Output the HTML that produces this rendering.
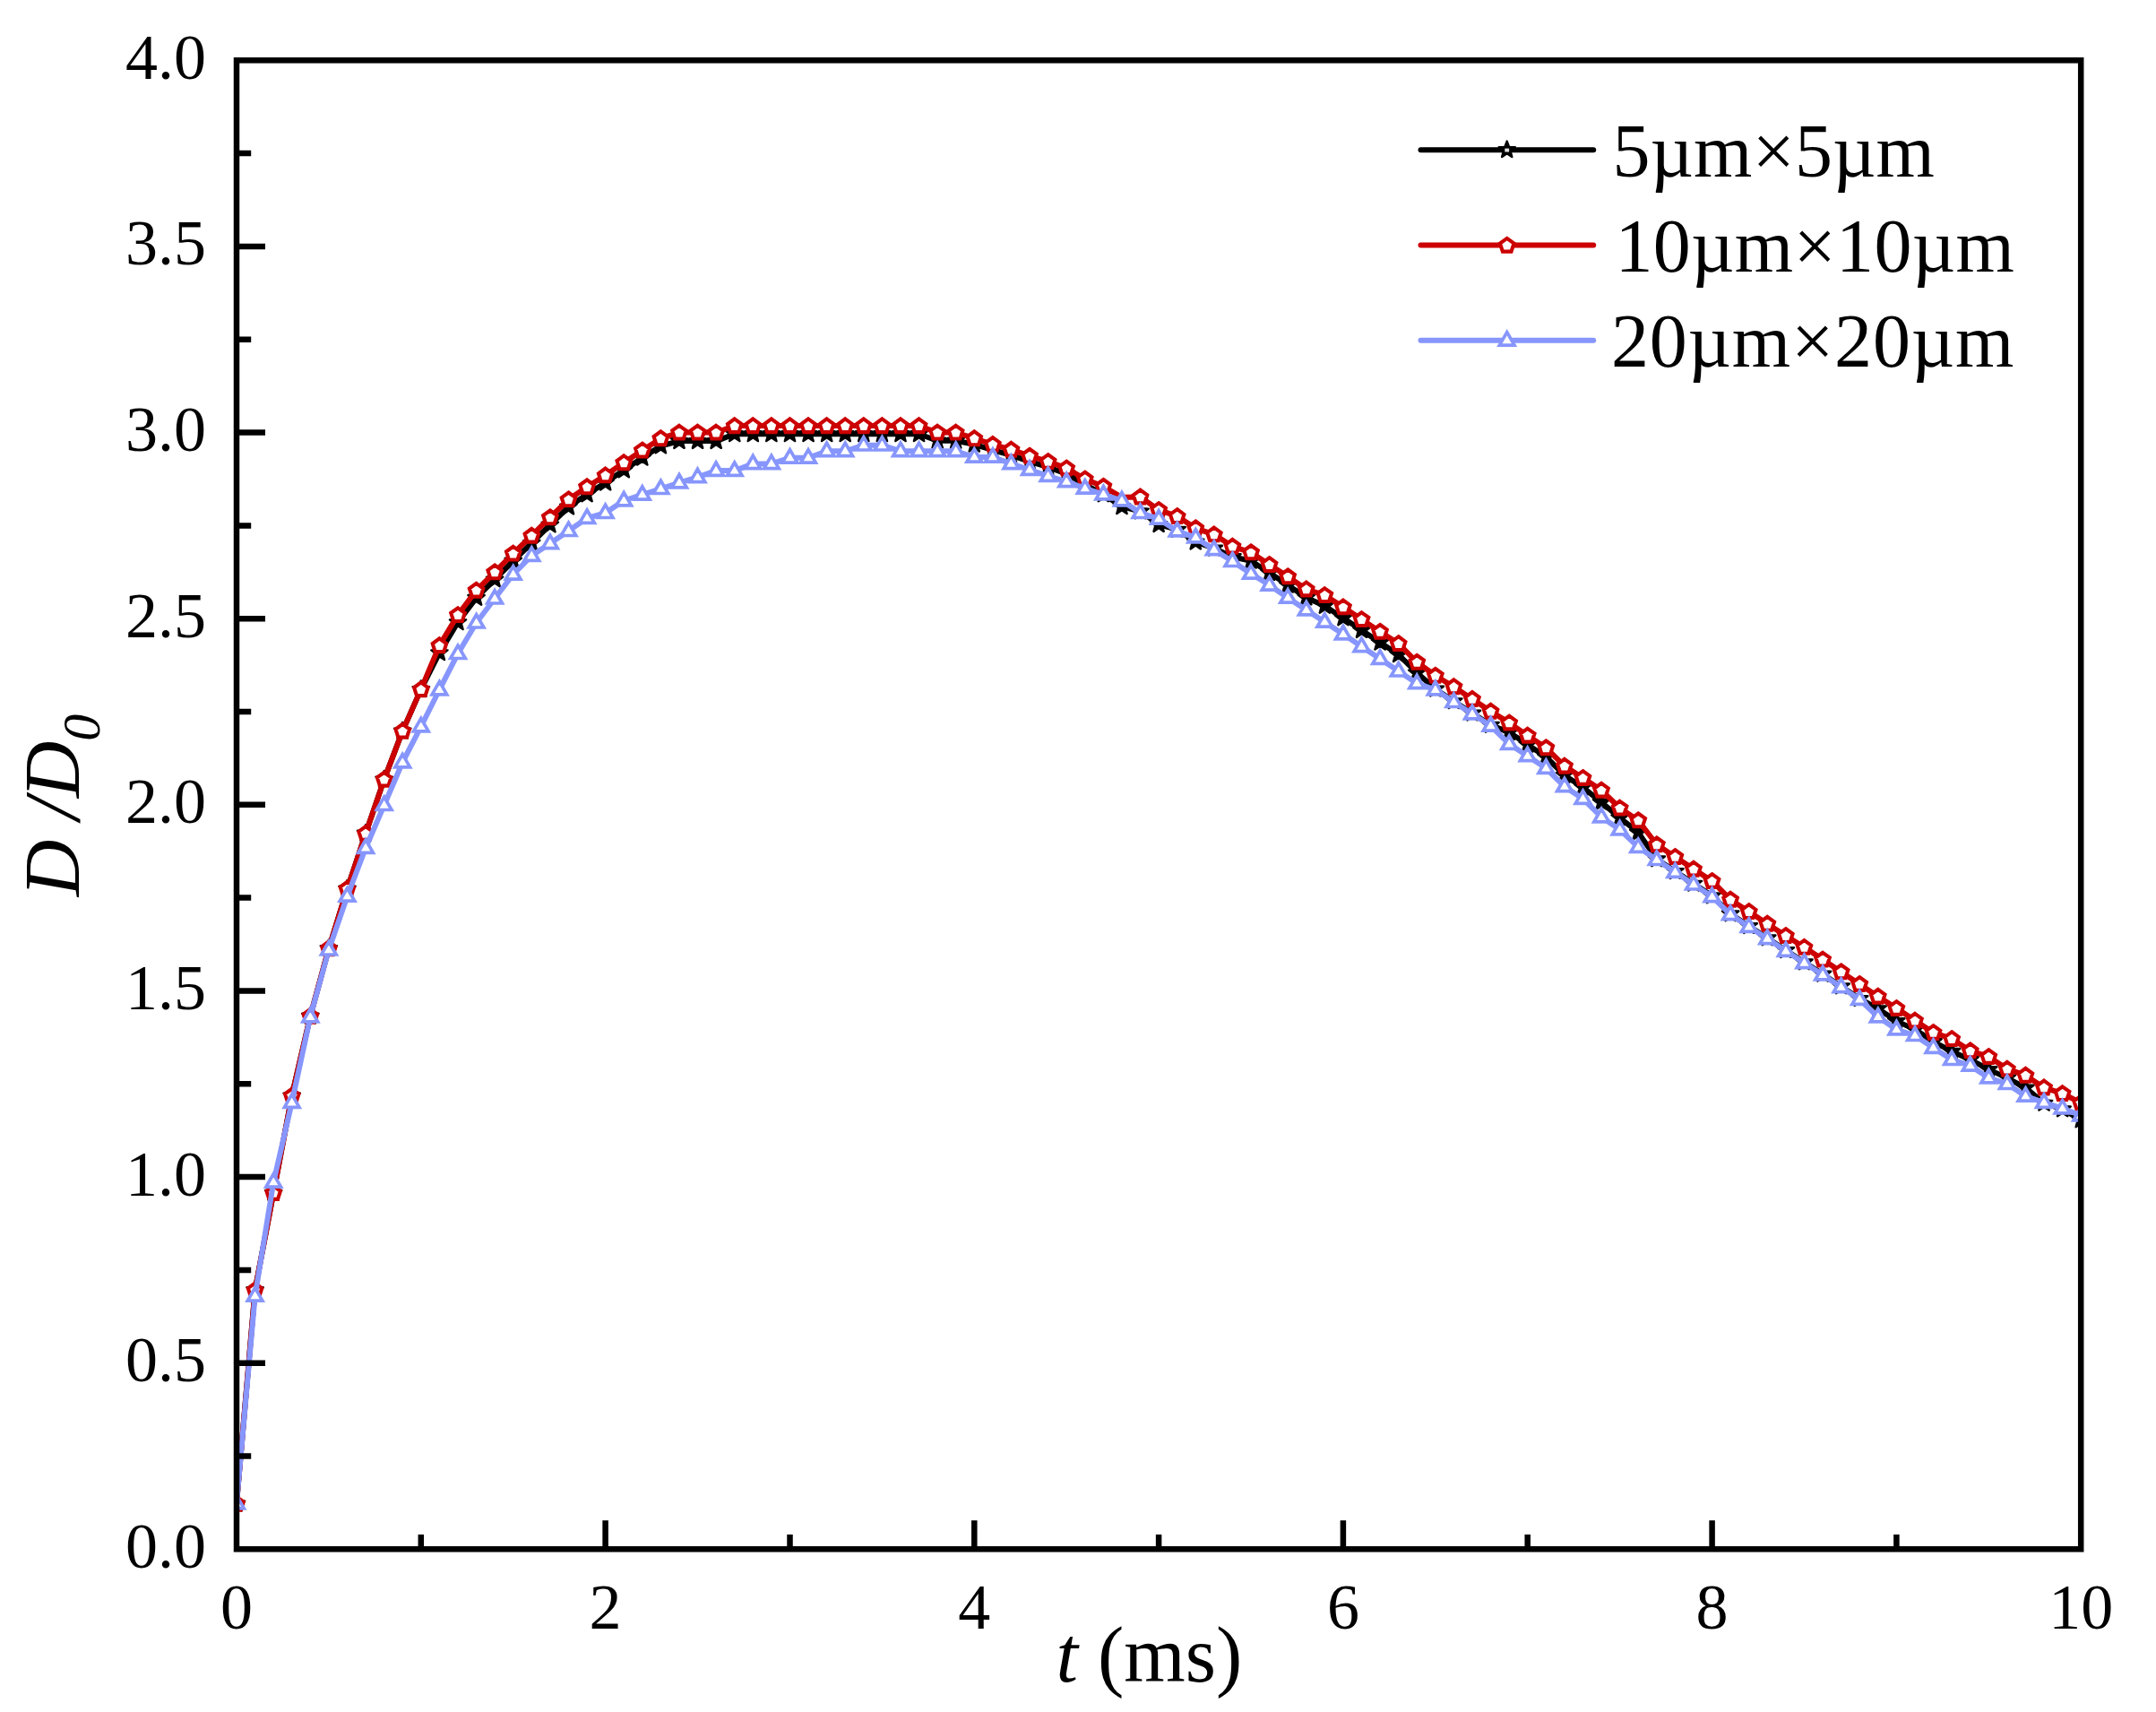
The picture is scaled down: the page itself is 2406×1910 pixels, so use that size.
<!DOCTYPE html>
<html lang="en"><head><meta charset="utf-8"><title>D/D0 vs t</title>
<style>html,body{margin:0;padding:0;background:#fff;}body{width:2406px;height:1910px;overflow:hidden;}svg{display:block;}</style>
</head><body>
<svg width="2406" height="1910" viewBox="0 0 2406 1910">
<rect x="0" y="0" width="2406" height="1910" fill="#ffffff"/>
<defs><clipPath id="plotclip"><rect x="264.0" y="67.3" width="2058.2" height="1661.0"/></clipPath></defs>
<g clip-path="url(#plotclip)">
<path d="M264.0,1677.6L284.6,1439.3L305.2,1330.9L325.7,1222.5L346.3,1133.7L366.9,1058.1L387.5,991.6L408.1,929.8L428.7,869.6L449.2,815.6L469.8,769.1L490.4,728.4L511.0,694.3L531.6,666.9L552.1,646.6L572.7,625.8L593.3,605.9L613.9,585.5L634.5,565.6L655.1,551.5L675.6,538.6L696.2,524.5L716.8,510.8L737.4,497.5L758.0,492.1L778.5,492.1L799.1,492.1L819.7,484.2L840.3,484.2L860.9,484.2L881.5,484.2L902.0,484.2L922.6,484.2L943.2,484.2L963.8,484.2L984.4,484.2L1005.0,484.2L1025.5,484.2L1046.1,491.7L1066.7,491.7L1087.3,495.8L1107.9,502.1L1128.4,507.9L1149.0,514.9L1169.6,521.2L1190.2,528.6L1210.8,540.7L1231.4,551.5L1251.9,565.2L1272.5,570.6L1293.1,585.1L1313.7,590.9L1334.3,604.6L1354.8,611.7L1375.4,621.2L1396.0,625.7L1416.6,639.1L1437.2,652.7L1457.8,666.7L1478.3,676.0L1498.9,689.4L1519.5,703.1L1540.1,716.8L1560.7,730.3L1581.2,750.6L1601.8,768.7L1622.4,782.4L1643.0,795.6L1663.6,808.9L1684.2,817.1L1704.7,830.8L1725.3,844.5L1745.9,864.9L1766.5,878.4L1787.1,895.1L1807.6,912.4L1828.2,928.7L1848.8,958.4L1869.4,972.1L1890.0,985.8L1910.6,999.5L1931.1,1019.5L1951.7,1033.2L1972.3,1046.5L1992.9,1060.2L2013.5,1073.5L2034.1,1086.7L2054.6,1100.4L2075.2,1114.1L2095.8,1125.4L2116.4,1139.1L2137.0,1148.6L2157.5,1162.1L2178.1,1172.9L2198.7,1182.2L2219.3,1193.1L2239.9,1202.6L2260.5,1213.6L2281.0,1230.8L2301.6,1237.5L2322.2,1249.5" fill="none" stroke="#000000" stroke-width="6.0" stroke-linejoin="round" stroke-linecap="round"/>
<path d="M264.0,1668.0L266.4,1674.4L273.1,1674.7L267.8,1678.9L269.6,1685.4L264.0,1681.6L258.4,1685.4L260.2,1678.9L254.9,1674.7L261.6,1674.4ZM284.6,1429.7L286.9,1436.0L293.7,1436.3L288.4,1440.5L290.2,1447.1L284.6,1443.3L278.9,1447.1L280.8,1440.5L275.5,1436.3L282.2,1436.0ZM305.2,1321.3L307.5,1327.7L314.3,1327.9L309.0,1332.1L310.8,1338.7L305.2,1334.9L299.5,1338.7L301.4,1332.1L296.0,1327.9L302.8,1327.7ZM325.7,1212.9L328.1,1219.3L334.9,1219.6L329.6,1223.8L331.4,1230.3L325.7,1226.5L320.1,1230.3L321.9,1223.8L316.6,1219.6L323.4,1219.3ZM346.3,1124.1L348.7,1130.4L355.5,1130.7L350.1,1134.9L352.0,1141.4L346.3,1137.7L340.7,1141.4L342.5,1134.9L337.2,1130.7L344.0,1130.4ZM366.9,1048.5L369.3,1054.9L376.0,1055.1L370.7,1059.3L372.6,1065.9L366.9,1062.1L361.3,1065.9L363.1,1059.3L357.8,1055.1L364.6,1054.9ZM387.5,982.0L389.8,988.4L396.6,988.7L391.3,992.9L393.1,999.4L387.5,995.6L381.8,999.4L383.7,992.9L378.4,988.7L385.1,988.4ZM408.1,920.2L410.4,926.5L417.2,926.8L411.9,931.0L413.7,937.5L408.1,933.8L402.4,937.5L404.3,931.0L398.9,926.8L405.7,926.5ZM428.7,860.0L431.0,866.3L437.8,866.6L432.5,870.8L434.3,877.3L428.7,873.6L423.0,877.3L424.9,870.8L419.5,866.6L426.3,866.3ZM449.2,806.0L451.6,812.3L458.4,812.6L453.0,816.8L454.9,823.3L449.2,819.6L443.6,823.3L445.4,816.8L440.1,812.6L446.9,812.3ZM469.8,759.5L472.2,765.8L479.0,766.1L473.6,770.3L475.5,776.8L469.8,773.1L464.2,776.8L466.0,770.3L460.7,766.1L467.5,765.8ZM490.4,718.8L492.8,725.1L499.5,725.4L494.2,729.6L496.0,736.1L490.4,732.4L484.8,736.1L486.6,729.6L481.3,725.4L488.1,725.1ZM511.0,684.7L513.3,691.1L520.1,691.4L514.8,695.6L516.6,702.1L511.0,698.3L505.3,702.1L507.2,695.6L501.9,691.4L508.6,691.1ZM531.6,657.3L533.9,663.7L540.7,664.0L535.4,668.2L537.2,674.7L531.6,670.9L525.9,674.7L527.8,668.2L522.4,664.0L529.2,663.7ZM552.1,637.0L554.5,643.3L561.3,643.6L556.0,647.8L557.8,654.3L552.1,650.6L546.5,654.3L548.3,647.8L543.0,643.6L549.8,643.3ZM572.7,616.2L575.1,622.6L581.9,622.8L576.5,627.0L578.4,633.6L572.7,629.8L567.1,633.6L568.9,627.0L563.6,622.8L570.4,622.6ZM593.3,596.3L595.7,602.6L602.4,602.9L597.1,607.1L599.0,613.6L593.3,609.9L587.7,613.6L589.5,607.1L584.2,602.9L591.0,602.6ZM613.9,575.9L616.2,582.3L623.0,582.6L617.7,586.8L619.5,593.3L613.9,589.5L608.3,593.3L610.1,586.8L604.8,582.6L611.5,582.3ZM634.5,556.0L636.8,562.4L643.6,562.6L638.3,566.8L640.1,573.4L634.5,569.6L628.8,573.4L630.7,566.8L625.3,562.6L632.1,562.4ZM655.1,541.9L657.4,548.2L664.2,548.5L658.9,552.7L660.7,559.2L655.1,555.5L649.4,559.2L651.3,552.7L645.9,548.5L652.7,548.2ZM675.6,529.0L678.0,535.4L684.8,535.6L679.4,539.8L681.3,546.4L675.6,542.6L670.0,546.4L671.8,539.8L666.5,535.6L673.3,535.4ZM696.2,514.9L698.6,521.3L705.4,521.5L700.0,525.7L701.9,532.3L696.2,528.5L690.6,532.3L692.4,525.7L687.1,521.5L693.9,521.3ZM716.8,501.2L719.2,507.6L725.9,507.8L720.6,512.0L722.4,518.6L716.8,514.8L711.2,518.6L713.0,512.0L707.7,507.8L714.5,507.6ZM737.4,487.9L739.7,494.3L746.5,494.5L741.2,498.7L743.0,505.3L737.4,501.5L731.7,505.3L733.6,498.7L728.3,494.5L735.0,494.3ZM758.0,482.5L760.3,488.9L767.1,489.1L761.8,493.3L763.6,499.9L758.0,496.1L752.3,499.9L754.2,493.3L748.8,489.1L755.6,488.9ZM778.5,482.5L780.9,488.9L787.7,489.1L782.4,493.3L784.2,499.9L778.5,496.1L772.9,499.9L774.7,493.3L769.4,489.1L776.2,488.9ZM799.1,482.5L801.5,488.9L808.3,489.1L802.9,493.3L804.8,499.9L799.1,496.1L793.5,499.9L795.3,493.3L790.0,489.1L796.8,488.9ZM819.7,474.6L822.1,481.0L828.8,481.2L823.5,485.4L825.4,492.0L819.7,488.2L814.1,492.0L815.9,485.4L810.6,481.2L817.4,481.0ZM840.3,474.6L842.6,481.0L849.4,481.2L844.1,485.4L845.9,492.0L840.3,488.2L834.7,492.0L836.5,485.4L831.2,481.2L837.9,481.0ZM860.9,474.6L863.2,481.0L870.0,481.2L864.7,485.4L866.5,492.0L860.9,488.2L855.2,492.0L857.1,485.4L851.7,481.2L858.5,481.0ZM881.5,474.6L883.8,481.0L890.6,481.2L885.3,485.4L887.1,492.0L881.5,488.2L875.8,492.0L877.7,485.4L872.3,481.2L879.1,481.0ZM902.0,474.6L904.4,481.0L911.2,481.2L905.8,485.4L907.7,492.0L902.0,488.2L896.4,492.0L898.2,485.4L892.9,481.2L899.7,481.0ZM922.6,474.6L925.0,481.0L931.8,481.2L926.4,485.4L928.3,492.0L922.6,488.2L917.0,492.0L918.8,485.4L913.5,481.2L920.3,481.0ZM943.2,474.6L945.6,481.0L952.3,481.2L947.0,485.4L948.8,492.0L943.2,488.2L937.6,492.0L939.4,485.4L934.1,481.2L940.9,481.0ZM963.8,474.6L966.1,481.0L972.9,481.2L967.6,485.4L969.4,492.0L963.8,488.2L958.1,492.0L960.0,485.4L954.7,481.2L961.4,481.0ZM984.4,474.6L986.7,481.0L993.5,481.2L988.2,485.4L990.0,492.0L984.4,488.2L978.7,492.0L980.6,485.4L975.2,481.2L982.0,481.0ZM1005.0,474.6L1007.3,481.0L1014.1,481.2L1008.8,485.4L1010.6,492.0L1005.0,488.2L999.3,492.0L1001.1,485.4L995.8,481.2L1002.6,481.0ZM1025.5,474.6L1027.9,481.0L1034.7,481.2L1029.3,485.4L1031.2,492.0L1025.5,488.2L1019.9,492.0L1021.7,485.4L1016.4,481.2L1023.2,481.0ZM1046.1,482.1L1048.5,488.4L1055.2,488.7L1049.9,492.9L1051.8,499.5L1046.1,495.7L1040.5,499.5L1042.3,492.9L1037.0,488.7L1043.8,488.4ZM1066.7,482.1L1069.0,488.4L1075.8,488.7L1070.5,492.9L1072.3,499.5L1066.7,495.7L1061.1,499.5L1062.9,492.9L1057.6,488.7L1064.3,488.4ZM1087.3,486.2L1089.6,492.6L1096.4,492.9L1091.1,497.1L1092.9,503.6L1087.3,499.8L1081.6,503.6L1083.5,497.1L1078.1,492.9L1084.9,492.6ZM1107.9,492.5L1110.2,498.8L1117.0,499.1L1111.7,503.3L1113.5,509.8L1107.9,506.1L1102.2,509.8L1104.1,503.3L1098.7,499.1L1105.5,498.8ZM1128.4,498.3L1130.8,504.6L1137.6,504.9L1132.2,509.1L1134.1,515.6L1128.4,511.9L1122.8,515.6L1124.6,509.1L1119.3,504.9L1126.1,504.6ZM1149.0,505.3L1151.4,511.7L1158.2,512.0L1152.8,516.2L1154.7,522.7L1149.0,518.9L1143.4,522.7L1145.2,516.2L1139.9,512.0L1146.7,511.7ZM1169.6,511.6L1172.0,517.9L1178.7,518.2L1173.4,522.4L1175.3,528.9L1169.6,525.2L1164.0,528.9L1165.8,522.4L1160.5,518.2L1167.3,517.9ZM1190.2,519.0L1192.5,525.4L1199.3,525.7L1194.0,529.9L1195.8,536.4L1190.2,532.6L1184.5,536.4L1186.4,529.9L1181.1,525.7L1187.8,525.4ZM1210.8,531.1L1213.1,537.4L1219.9,537.7L1214.6,541.9L1216.4,548.5L1210.8,544.7L1205.1,548.5L1207.0,541.9L1201.6,537.7L1208.4,537.4ZM1231.4,541.9L1233.7,548.2L1240.5,548.5L1235.2,552.7L1237.0,559.2L1231.4,555.5L1225.7,559.2L1227.5,552.7L1222.2,548.5L1229.0,548.2ZM1251.9,555.6L1254.3,561.9L1261.1,562.2L1255.7,566.4L1257.6,573.0L1251.9,569.2L1246.3,573.0L1248.1,566.4L1242.8,562.2L1249.6,561.9ZM1272.5,561.0L1274.9,567.3L1281.6,567.6L1276.3,571.8L1278.2,578.3L1272.5,574.6L1266.9,578.3L1268.7,571.8L1263.4,567.6L1270.2,567.3ZM1293.1,575.5L1295.5,581.9L1302.2,582.2L1296.9,586.4L1298.7,592.9L1293.1,589.1L1287.5,592.9L1289.3,586.4L1284.0,582.2L1290.7,581.9ZM1313.7,581.3L1316.0,587.7L1322.8,588.0L1317.5,592.2L1319.3,598.7L1313.7,594.9L1308.0,598.7L1309.9,592.2L1304.6,588.0L1311.3,587.7ZM1334.3,595.0L1336.6,601.4L1343.4,601.7L1338.1,605.9L1339.9,612.4L1334.3,608.6L1328.6,612.4L1330.5,605.9L1325.1,601.7L1331.9,601.4ZM1354.8,602.1L1357.2,608.5L1364.0,608.7L1358.7,612.9L1360.5,619.5L1354.8,615.7L1349.2,619.5L1351.0,612.9L1345.7,608.7L1352.5,608.5ZM1375.4,611.6L1377.8,618.0L1384.6,618.3L1379.2,622.5L1381.1,629.0L1375.4,625.2L1369.8,629.0L1371.6,622.5L1366.3,618.3L1373.1,618.0ZM1396.0,616.1L1398.4,622.5L1405.1,622.8L1399.8,627.0L1401.7,633.5L1396.0,629.7L1390.4,633.5L1392.2,627.0L1386.9,622.8L1393.7,622.5ZM1416.6,629.5L1418.9,635.9L1425.7,636.1L1420.4,640.3L1422.2,646.9L1416.6,643.1L1410.9,646.9L1412.8,640.3L1407.5,636.1L1414.2,635.9ZM1437.2,643.1L1439.5,649.5L1446.3,649.8L1441.0,654.0L1442.8,660.5L1437.2,656.7L1431.5,660.5L1433.4,654.0L1428.0,649.8L1434.8,649.5ZM1457.8,657.1L1460.1,663.4L1466.9,663.7L1461.6,667.9L1463.4,674.4L1457.8,670.7L1452.1,674.4L1454.0,667.9L1448.6,663.7L1455.4,663.4ZM1478.3,666.4L1480.7,672.7L1487.5,673.0L1482.1,677.2L1484.0,683.7L1478.3,680.0L1472.7,683.7L1474.5,677.2L1469.2,673.0L1476.0,672.7ZM1498.9,679.8L1501.3,686.2L1508.1,686.5L1502.7,690.7L1504.6,697.2L1498.9,693.4L1493.3,697.2L1495.1,690.7L1489.8,686.5L1496.6,686.2ZM1519.5,693.5L1521.9,699.9L1528.6,700.2L1523.3,704.4L1525.1,710.9L1519.5,707.1L1513.9,710.9L1515.7,704.4L1510.4,700.2L1517.2,699.9ZM1540.1,707.2L1542.4,713.6L1549.2,713.9L1543.9,718.1L1545.7,724.6L1540.1,720.8L1534.4,724.6L1536.3,718.1L1531.0,713.9L1537.7,713.6ZM1560.7,720.7L1563.0,727.1L1569.8,727.3L1564.5,731.5L1566.3,738.1L1560.7,734.3L1555.0,738.1L1556.9,731.5L1551.5,727.3L1558.3,727.1ZM1581.2,741.0L1583.6,747.4L1590.4,747.6L1585.1,751.8L1586.9,758.4L1581.2,754.6L1575.6,758.4L1577.4,751.8L1572.1,747.6L1578.9,747.4ZM1601.8,759.1L1604.2,765.4L1611.0,765.7L1605.6,769.9L1607.5,776.4L1601.8,772.7L1596.2,776.4L1598.0,769.9L1592.7,765.7L1599.5,765.4ZM1622.4,772.8L1624.8,779.1L1631.5,779.4L1626.2,783.6L1628.1,790.1L1622.4,786.4L1616.8,790.1L1618.6,783.6L1613.3,779.4L1620.1,779.1ZM1643.0,786.0L1645.3,792.4L1652.1,792.7L1646.8,796.9L1648.6,803.4L1643.0,799.6L1637.4,803.4L1639.2,796.9L1633.9,792.7L1640.6,792.4ZM1663.6,799.3L1665.9,805.7L1672.7,806.0L1667.4,810.2L1669.2,816.7L1663.6,812.9L1657.9,816.7L1659.8,810.2L1654.4,806.0L1661.2,805.7ZM1684.2,807.5L1686.5,813.9L1693.3,814.1L1688.0,818.3L1689.8,824.9L1684.2,821.1L1678.5,824.9L1680.4,818.3L1675.0,814.1L1681.8,813.9ZM1704.7,821.2L1707.1,827.6L1713.9,827.9L1708.5,832.1L1710.4,838.6L1704.7,834.8L1699.1,838.6L1700.9,832.1L1695.6,827.9L1702.4,827.6ZM1725.3,834.9L1727.7,841.3L1734.5,841.6L1729.1,845.8L1731.0,852.3L1725.3,848.5L1719.7,852.3L1721.5,845.8L1716.2,841.6L1723.0,841.3ZM1745.9,855.3L1748.3,861.7L1755.0,861.9L1749.7,866.1L1751.5,872.7L1745.9,868.9L1740.3,872.7L1742.1,866.1L1736.8,861.9L1743.6,861.7ZM1766.5,868.8L1768.8,875.1L1775.6,875.4L1770.3,879.6L1772.1,886.1L1766.5,882.4L1760.8,886.1L1762.7,879.6L1757.4,875.4L1764.1,875.1ZM1787.1,885.5L1789.4,891.8L1796.2,892.1L1790.9,896.3L1792.7,902.8L1787.1,899.1L1781.4,902.8L1783.3,896.3L1777.9,892.1L1784.7,891.8ZM1807.6,902.8L1810.0,909.1L1816.8,909.4L1811.5,913.6L1813.3,920.1L1807.6,916.4L1802.0,920.1L1803.8,913.6L1798.5,909.4L1805.3,909.1ZM1828.2,919.1L1830.6,925.5L1837.4,925.7L1832.0,929.9L1833.9,936.5L1828.2,932.7L1822.6,936.5L1824.4,929.9L1819.1,925.7L1825.9,925.5ZM1848.8,948.8L1851.2,955.2L1857.9,955.5L1852.6,959.7L1854.5,966.2L1848.8,962.4L1843.2,966.2L1845.0,959.7L1839.7,955.5L1846.5,955.2ZM1869.4,962.5L1871.7,968.9L1878.5,969.2L1873.2,973.4L1875.0,979.9L1869.4,976.1L1863.8,979.9L1865.6,973.4L1860.3,969.2L1867.0,968.9ZM1890.0,976.2L1892.3,982.6L1899.1,982.9L1893.8,987.1L1895.6,993.6L1890.0,989.8L1884.3,993.6L1886.2,987.1L1880.8,982.9L1887.6,982.6ZM1910.6,989.9L1912.9,996.3L1919.7,996.6L1914.4,1000.8L1916.2,1007.3L1910.6,1003.5L1904.9,1007.3L1906.8,1000.8L1901.4,996.6L1908.2,996.3ZM1931.1,1009.9L1933.5,1016.2L1940.3,1016.5L1934.9,1020.7L1936.8,1027.2L1931.1,1023.5L1925.5,1027.2L1927.3,1020.7L1922.0,1016.5L1928.8,1016.2ZM1951.7,1023.6L1954.1,1029.9L1960.9,1030.2L1955.5,1034.4L1957.4,1040.9L1951.7,1037.2L1946.1,1040.9L1947.9,1034.4L1942.6,1030.2L1949.4,1029.9ZM1972.3,1036.9L1974.7,1043.2L1981.4,1043.5L1976.1,1047.7L1977.9,1054.2L1972.3,1050.5L1966.7,1054.2L1968.5,1047.7L1963.2,1043.5L1970.0,1043.2ZM1992.9,1050.6L1995.2,1056.9L2002.0,1057.2L1996.7,1061.4L1998.5,1067.9L1992.9,1064.2L1987.2,1067.9L1989.1,1061.4L1983.8,1057.2L1990.5,1056.9ZM2013.5,1063.9L2015.8,1070.2L2022.6,1070.5L2017.3,1074.7L2019.1,1081.2L2013.5,1077.5L2007.8,1081.2L2009.7,1074.7L2004.3,1070.5L2011.1,1070.2ZM2034.1,1077.1L2036.4,1083.5L2043.2,1083.8L2037.9,1088.0L2039.7,1094.5L2034.1,1090.7L2028.4,1094.5L2030.2,1088.0L2024.9,1083.8L2031.7,1083.5ZM2054.6,1090.8L2057.0,1097.2L2063.8,1097.5L2058.4,1101.7L2060.3,1108.2L2054.6,1104.4L2049.0,1108.2L2050.8,1101.7L2045.5,1097.5L2052.3,1097.2ZM2075.2,1104.5L2077.6,1110.9L2084.3,1111.2L2079.0,1115.4L2080.9,1121.9L2075.2,1118.1L2069.6,1121.9L2071.4,1115.4L2066.1,1111.2L2072.9,1110.9ZM2095.8,1115.8L2098.1,1122.1L2104.9,1122.4L2099.6,1126.6L2101.4,1133.1L2095.8,1129.4L2090.2,1133.1L2092.0,1126.6L2086.7,1122.4L2093.4,1122.1ZM2116.4,1129.5L2118.7,1135.9L2125.5,1136.2L2120.2,1140.4L2122.0,1146.9L2116.4,1143.1L2110.7,1146.9L2112.6,1140.4L2107.2,1136.2L2114.0,1135.9ZM2137.0,1139.0L2139.3,1145.4L2146.1,1145.6L2140.8,1149.8L2142.6,1156.4L2137.0,1152.6L2131.3,1156.4L2133.2,1149.8L2127.8,1145.6L2134.6,1145.4ZM2157.5,1152.5L2159.9,1158.9L2166.7,1159.2L2161.3,1163.4L2163.2,1169.9L2157.5,1166.1L2151.9,1169.9L2153.7,1163.4L2148.4,1159.2L2155.2,1158.9ZM2178.1,1163.3L2180.5,1169.7L2187.3,1170.0L2181.9,1174.2L2183.8,1180.7L2178.1,1176.9L2172.5,1180.7L2174.3,1174.2L2169.0,1170.0L2175.8,1169.7ZM2198.7,1172.6L2201.1,1179.0L2207.8,1179.3L2202.5,1183.5L2204.4,1190.0L2198.7,1186.2L2193.1,1190.0L2194.9,1183.5L2189.6,1179.3L2196.4,1179.0ZM2219.3,1183.5L2221.6,1189.9L2228.4,1190.2L2223.1,1194.4L2224.9,1200.9L2219.3,1197.1L2213.6,1200.9L2215.5,1194.4L2210.2,1190.2L2216.9,1189.9ZM2239.9,1193.0L2242.2,1199.4L2249.0,1199.6L2243.7,1203.8L2245.5,1210.4L2239.9,1206.6L2234.2,1210.4L2236.1,1203.8L2230.7,1199.6L2237.5,1199.4ZM2260.5,1204.0L2262.8,1210.4L2269.6,1210.7L2264.3,1214.9L2266.1,1221.4L2260.5,1217.6L2254.8,1221.4L2256.6,1214.9L2251.3,1210.7L2258.1,1210.4ZM2281.0,1221.2L2283.4,1227.6L2290.2,1227.9L2284.8,1232.1L2286.7,1238.6L2281.0,1234.8L2275.4,1238.6L2277.2,1232.1L2271.9,1227.9L2278.7,1227.6ZM2301.6,1227.9L2304.0,1234.2L2310.7,1234.5L2305.4,1238.7L2307.3,1245.2L2301.6,1241.5L2296.0,1245.2L2297.8,1238.7L2292.5,1234.5L2299.3,1234.2ZM2322.2,1239.9L2324.6,1246.3L2331.3,1246.6L2326.0,1250.8L2327.8,1257.3L2322.2,1253.5L2316.6,1257.3L2318.4,1250.8L2313.1,1246.6L2319.8,1246.3Z" fill="#000000" stroke="#000000" stroke-width="2.4" stroke-linejoin="round"/>

<path d="M264.0,1677.6L284.6,1439.3L305.2,1330.9L325.7,1222.5L346.3,1133.7L366.9,1058.1L387.5,991.6L408.1,929.8L428.7,869.6L449.2,815.6L469.8,769.1L490.4,720.1L511.0,686.0L531.6,658.6L552.1,638.3L572.7,617.5L593.3,597.6L613.9,577.2L634.5,557.3L655.1,543.2L675.6,530.3L696.2,516.2L716.8,502.5L737.4,489.2L758.0,482.5L778.5,482.5L799.1,482.5L819.7,475.1L840.3,475.1L860.9,475.1L881.5,475.1L902.0,475.1L922.6,475.1L943.2,475.1L963.8,475.1L984.4,475.1L1005.0,475.1L1025.5,475.1L1046.1,482.5L1066.7,482.5L1087.3,489.2L1107.9,495.8L1128.4,501.7L1149.0,508.7L1169.6,514.9L1190.2,522.4L1210.8,534.5L1231.4,542.8L1251.9,554.8L1272.5,554.4L1293.1,568.9L1313.7,576.0L1334.3,589.3L1354.8,596.3L1375.4,609.6L1396.0,616.3L1416.6,630.0L1437.2,643.3L1457.8,657.4L1478.3,664.0L1498.9,677.3L1519.5,691.0L1540.1,704.7L1560.7,718.0L1581.2,738.8L1601.8,753.7L1622.4,766.2L1643.0,779.9L1663.6,793.6L1684.2,806.4L1704.7,820.6L1725.3,834.3L1745.9,854.6L1766.5,867.9L1787.1,881.6L1807.6,901.5L1828.2,915.2L1848.8,942.2L1869.4,955.9L1890.0,969.6L1910.6,982.9L1931.1,1003.7L1951.7,1017.0L1972.3,1030.7L1992.9,1044.0L2013.5,1056.8L2034.1,1070.5L2054.6,1084.2L2075.2,1098.0L2095.8,1111.7L2116.4,1124.9L2137.0,1138.6L2157.5,1151.9L2178.1,1159.0L2198.7,1172.3L2219.3,1178.9L2239.9,1192.6L2260.5,1199.7L2281.0,1213.4L2301.6,1220.0L2322.2,1230.4" fill="none" stroke="#CC0000" stroke-width="6.0" stroke-linejoin="round" stroke-linecap="round"/>
<path d="M264.0,1669.9L271.8,1675.5L268.8,1684.6L259.2,1684.6L256.2,1675.5ZM284.6,1431.5L292.3,1437.2L289.4,1446.3L279.8,1446.3L276.8,1437.2ZM305.2,1323.2L312.9,1328.8L310.0,1337.9L300.4,1337.9L297.4,1328.8ZM325.7,1214.8L333.5,1220.4L330.5,1229.5L321.0,1229.5L318.0,1220.4ZM346.3,1125.9L354.1,1131.5L351.1,1140.7L341.5,1140.7L338.6,1131.5ZM366.9,1050.3L374.7,1056.0L371.7,1065.1L362.1,1065.1L359.2,1056.0ZM387.5,983.9L395.2,989.5L392.3,998.6L382.7,998.6L379.7,989.5ZM408.1,922.0L415.8,927.7L412.9,936.8L403.3,936.8L400.3,927.7ZM428.7,861.8L436.4,867.4L433.4,876.6L423.9,876.6L420.9,867.4ZM449.2,807.8L457.0,813.5L454.0,822.6L444.4,822.6L441.5,813.5ZM469.8,761.3L477.6,767.0L474.6,776.1L465.0,776.1L462.1,767.0ZM490.4,712.3L498.2,718.0L495.2,727.1L485.6,727.1L482.7,718.0ZM511.0,678.3L518.7,683.9L515.8,693.0L506.2,693.0L503.2,683.9ZM531.6,650.9L539.3,656.5L536.4,665.6L526.8,665.6L523.8,656.5ZM552.1,630.5L559.9,636.2L556.9,645.3L547.4,645.3L544.4,636.2ZM572.7,609.8L580.5,615.4L577.5,624.5L567.9,624.5L565.0,615.4ZM593.3,589.8L601.1,595.5L598.1,604.6L588.5,604.6L585.6,595.5ZM613.9,569.5L621.6,575.1L618.7,584.2L609.1,584.2L606.1,575.1ZM634.5,549.5L642.2,555.2L639.3,564.3L629.7,564.3L626.7,555.2ZM655.1,535.4L662.8,541.1L659.8,550.2L650.3,550.2L647.3,541.1ZM675.6,522.6L683.4,528.2L680.4,537.3L670.8,537.3L667.9,528.2ZM696.2,508.4L704.0,514.1L701.0,523.2L691.4,523.2L688.5,514.1ZM716.8,494.7L724.6,500.4L721.6,509.5L712.0,509.5L709.1,500.4ZM737.4,481.4L745.1,487.1L742.2,496.2L732.6,496.2L729.6,487.1ZM758.0,474.8L765.7,480.4L762.8,489.5L753.2,489.5L750.2,480.4ZM778.5,474.8L786.3,480.4L783.3,489.5L773.8,489.5L770.8,480.4ZM799.1,474.8L806.9,480.4L803.9,489.5L794.3,489.5L791.4,480.4ZM819.7,467.3L827.5,473.0L824.5,482.1L814.9,482.1L812.0,473.0ZM840.3,467.3L848.0,473.0L845.1,482.1L835.5,482.1L832.5,473.0ZM860.9,467.3L868.6,473.0L865.7,482.1L856.1,482.1L853.1,473.0ZM881.5,467.3L889.2,473.0L886.3,482.1L876.7,482.1L873.7,473.0ZM902.0,467.3L909.8,473.0L906.8,482.1L897.3,482.1L894.3,473.0ZM922.6,467.3L930.4,473.0L927.4,482.1L917.8,482.1L914.9,473.0ZM943.2,467.3L951.0,473.0L948.0,482.1L938.4,482.1L935.5,473.0ZM963.8,467.3L971.5,473.0L968.6,482.1L959.0,482.1L956.0,473.0ZM984.4,467.3L992.1,473.0L989.2,482.1L979.6,482.1L976.6,473.0ZM1005.0,467.3L1012.7,473.0L1009.7,482.1L1000.2,482.1L997.2,473.0ZM1025.5,467.3L1033.3,473.0L1030.3,482.1L1020.7,482.1L1017.8,473.0ZM1046.1,474.8L1053.9,480.4L1050.9,489.5L1041.3,489.5L1038.4,480.4ZM1066.7,474.8L1074.4,480.4L1071.5,489.5L1061.9,489.5L1058.9,480.4ZM1087.3,481.4L1095.0,487.1L1092.1,496.2L1082.5,496.2L1079.5,487.1ZM1107.9,488.1L1115.6,493.7L1112.7,502.8L1103.1,502.8L1100.1,493.7ZM1128.4,493.9L1136.2,499.5L1133.2,508.6L1123.7,508.6L1120.7,499.5ZM1149.0,501.0L1156.8,506.6L1153.8,515.7L1144.2,515.7L1141.3,506.6ZM1169.6,507.2L1177.4,512.8L1174.4,521.9L1164.8,521.9L1161.9,512.8ZM1190.2,514.7L1197.9,520.3L1195.0,529.4L1185.4,529.4L1182.4,520.3ZM1210.8,526.7L1218.5,532.3L1215.6,541.4L1206.0,541.4L1203.0,532.3ZM1231.4,535.0L1239.1,540.6L1236.1,549.8L1226.6,549.8L1223.6,540.6ZM1272.5,546.6L1280.3,552.3L1277.3,561.4L1267.7,561.4L1264.8,552.3ZM1293.1,561.2L1300.9,566.8L1297.9,575.9L1288.3,575.9L1285.3,566.8ZM1313.7,568.2L1321.4,573.9L1318.5,583.0L1308.9,583.0L1305.9,573.9ZM1334.3,581.5L1342.0,587.2L1339.1,596.3L1329.5,596.3L1326.5,587.2ZM1354.8,588.6L1362.6,594.2L1359.6,603.3L1350.1,603.3L1347.1,594.2ZM1375.4,601.9L1383.2,607.5L1380.2,616.6L1370.6,616.6L1367.7,607.5ZM1396.0,608.5L1403.8,614.1L1400.8,623.3L1391.2,623.3L1388.3,614.1ZM1416.6,622.2L1424.3,627.8L1421.4,637.0L1411.8,637.0L1408.8,627.8ZM1437.2,635.5L1444.9,641.1L1442.0,650.2L1432.4,650.2L1429.4,641.1ZM1457.8,649.6L1465.5,655.3L1462.5,664.4L1453.0,664.4L1450.0,655.3ZM1478.3,656.3L1486.1,661.9L1483.1,671.0L1473.5,671.0L1470.6,661.9ZM1498.9,669.6L1506.7,675.2L1503.7,684.3L1494.1,684.3L1491.2,675.2ZM1519.5,683.3L1527.3,688.9L1524.3,698.0L1514.7,698.0L1511.8,688.9ZM1540.1,697.0L1547.8,702.6L1544.9,711.7L1535.3,711.7L1532.3,702.6ZM1560.7,710.2L1568.4,715.9L1565.5,725.0L1555.9,725.0L1552.9,715.9ZM1581.2,731.0L1589.0,736.6L1586.0,745.8L1576.5,745.8L1573.5,736.6ZM1601.8,746.0L1609.6,751.6L1606.6,760.7L1597.0,760.7L1594.1,751.6ZM1622.4,758.4L1630.2,764.0L1627.2,773.2L1617.6,773.2L1614.7,764.0ZM1643.0,772.1L1650.7,777.8L1647.8,786.9L1638.2,786.9L1635.2,777.8ZM1663.6,785.8L1671.3,791.5L1668.4,800.6L1658.8,800.6L1655.8,791.5ZM1684.2,798.7L1691.9,804.3L1688.9,813.4L1679.4,813.4L1676.4,804.3ZM1704.7,812.8L1712.5,818.4L1709.5,827.6L1699.9,827.6L1697.0,818.4ZM1725.3,826.5L1733.1,832.1L1730.1,841.3L1720.5,841.3L1717.6,832.1ZM1745.9,846.9L1753.7,852.5L1750.7,861.6L1741.1,861.6L1738.2,852.5ZM1766.5,860.2L1774.2,865.8L1771.3,874.9L1761.7,874.9L1758.7,865.8ZM1787.1,873.9L1794.8,879.5L1791.9,888.6L1782.3,888.6L1779.3,879.5ZM1807.6,893.8L1815.4,899.4L1812.4,908.5L1802.9,908.5L1799.9,899.4ZM1828.2,907.5L1836.0,913.1L1833.0,922.2L1823.4,922.2L1820.5,913.1ZM1848.8,934.5L1856.6,940.1L1853.6,949.2L1844.0,949.2L1841.1,940.1ZM1869.4,948.2L1877.1,953.8L1874.2,962.9L1864.6,962.9L1861.6,953.8ZM1890.0,961.9L1897.7,967.5L1894.8,976.6L1885.2,976.6L1882.2,967.5ZM1910.6,975.2L1918.3,980.8L1915.4,989.9L1905.8,989.9L1902.8,980.8ZM1931.1,995.9L1938.9,1001.6L1935.9,1010.7L1926.4,1010.7L1923.4,1001.6ZM1951.7,1009.2L1959.5,1014.9L1956.5,1024.0L1946.9,1024.0L1944.0,1014.9ZM1972.3,1022.9L1980.1,1028.6L1977.1,1037.7L1967.5,1037.7L1964.6,1028.6ZM1992.9,1036.2L2000.6,1041.8L1997.7,1051.0L1988.1,1051.0L1985.1,1041.8ZM2013.5,1049.1L2021.2,1054.7L2018.3,1063.8L2008.7,1063.8L2005.7,1054.7ZM2034.1,1062.8L2041.8,1068.4L2038.8,1077.5L2029.3,1077.5L2026.3,1068.4ZM2054.6,1076.5L2062.4,1082.1L2059.4,1091.2L2049.8,1091.2L2046.9,1082.1ZM2075.2,1090.2L2083.0,1095.8L2080.0,1104.9L2070.4,1104.9L2067.5,1095.8ZM2095.8,1103.9L2103.5,1109.5L2100.6,1118.6L2091.0,1118.6L2088.0,1109.5ZM2116.4,1117.2L2124.1,1122.8L2121.2,1131.9L2111.6,1131.9L2108.6,1122.8ZM2137.0,1130.9L2144.7,1136.5L2141.8,1145.6L2132.2,1145.6L2129.2,1136.5ZM2157.5,1144.2L2165.3,1149.8L2162.3,1158.9L2152.8,1158.9L2149.8,1149.8ZM2178.1,1151.2L2185.9,1156.9L2182.9,1166.0L2173.3,1166.0L2170.4,1156.9ZM2198.7,1164.5L2206.5,1170.2L2203.5,1179.3L2193.9,1179.3L2191.0,1170.2ZM2219.3,1171.2L2227.0,1176.8L2224.1,1185.9L2214.5,1185.9L2211.5,1176.8ZM2239.9,1184.9L2247.6,1190.5L2244.7,1199.6L2235.1,1199.6L2232.1,1190.5ZM2260.5,1191.9L2268.2,1197.6L2265.2,1206.7L2255.7,1206.7L2252.7,1197.6ZM2281.0,1205.6L2288.8,1211.3L2285.8,1220.4L2276.2,1220.4L2273.3,1211.3ZM2301.6,1212.3L2309.4,1217.9L2306.4,1227.0L2296.8,1227.0L2293.9,1217.9ZM2322.2,1222.7L2330.0,1228.3L2327.0,1237.4L2317.4,1237.4L2314.4,1228.3Z" fill="#fff" stroke="#CC0000" stroke-width="4.1" stroke-linejoin="miter"/>

<path d="M264.0,1677.6L284.6,1445.9L305.2,1318.9L325.7,1230.0L346.3,1134.5L366.9,1059.7L387.5,1000.0L408.1,946.0L428.7,898.2L449.2,850.5L469.8,810.6L490.4,769.5L511.0,729.2L531.6,694.7L552.1,667.8L572.7,640.8L593.3,620.0L613.9,606.3L634.5,592.2L655.1,578.1L675.6,572.2L696.2,558.5L716.8,551.9L737.4,545.3L758.0,538.6L778.5,532.4L799.1,525.1L819.7,525.1L840.3,517.4L860.9,517.4L881.5,510.8L902.0,510.8L922.6,503.3L943.2,503.3L963.8,496.7L984.4,496.7L1005.0,503.3L1025.5,503.3L1046.1,503.3L1066.7,503.3L1087.3,510.0L1107.9,510.0L1128.4,517.4L1149.0,524.1L1169.6,531.1L1190.2,537.4L1210.8,544.8L1231.4,551.5L1251.9,558.5L1272.5,572.2L1293.1,578.9L1313.7,592.6L1334.3,599.7L1354.8,613.4L1375.4,626.2L1396.0,639.9L1416.6,652.8L1437.2,666.9L1457.8,680.6L1478.3,693.9L1498.9,707.6L1519.5,721.3L1540.1,735.0L1560.7,748.7L1581.2,762.4L1601.8,769.5L1622.4,783.2L1643.0,796.5L1663.6,809.8L1684.2,830.1L1704.7,843.4L1725.3,857.1L1745.9,877.5L1766.5,891.2L1787.1,911.5L1807.6,925.6L1828.2,945.1L1848.8,959.3L1869.4,973.0L1890.0,986.7L1910.6,1000.4L1931.1,1020.3L1951.7,1034.0L1972.3,1047.3L1992.9,1061.0L2013.5,1074.3L2034.1,1087.6L2054.6,1101.3L2075.2,1115.0L2095.8,1134.5L2116.4,1148.6L2137.0,1155.3L2157.5,1169.0L2178.1,1182.2L2198.7,1188.9L2219.3,1202.6L2239.9,1209.2L2260.5,1222.9L2281.0,1230.0L2301.6,1236.6L2322.2,1244.5" fill="none" stroke="#8796FD" stroke-width="6.0" stroke-linejoin="round" stroke-linecap="round"/>
<path d="M264.0,1668.6L272.3,1682.9L255.7,1682.9ZM284.6,1436.8L292.9,1451.2L276.3,1451.2ZM305.2,1309.8L313.5,1324.2L296.9,1324.2ZM325.7,1220.9L334.0,1235.3L317.4,1235.3ZM346.3,1125.4L354.6,1139.8L338.0,1139.8ZM366.9,1050.7L375.2,1065.0L358.6,1065.0ZM387.5,990.9L395.8,1005.2L379.2,1005.2ZM408.1,936.9L416.4,951.3L399.8,951.3ZM428.7,889.1L437.0,903.5L420.4,903.5ZM449.2,841.4L457.5,855.8L440.9,855.8ZM469.8,801.5L478.1,815.9L461.5,815.9ZM490.4,760.4L498.7,774.8L482.1,774.8ZM511.0,720.1L519.3,734.5L502.7,734.5ZM531.6,685.7L539.9,700.0L523.3,700.0ZM552.1,658.7L560.4,673.0L543.8,673.0ZM572.7,631.7L581.0,646.1L564.4,646.1ZM593.3,610.9L601.6,625.3L585.0,625.3ZM613.9,597.2L622.2,611.6L605.6,611.6ZM634.5,583.1L642.8,597.5L626.2,597.5ZM655.1,569.0L663.4,583.3L646.8,583.3ZM675.6,563.2L683.9,577.5L667.3,577.5ZM696.2,549.5L704.5,563.8L687.9,563.8ZM716.8,542.8L725.1,557.2L708.5,557.2ZM737.4,536.2L745.7,550.5L729.1,550.5ZM758.0,529.5L766.3,543.9L749.7,543.9ZM778.5,523.3L786.8,537.7L770.2,537.7ZM799.1,516.0L807.4,530.4L790.8,530.4ZM819.7,516.0L828.0,530.4L811.4,530.4ZM840.3,508.3L848.6,522.7L832.0,522.7ZM860.9,508.3L869.2,522.7L852.6,522.7ZM881.5,501.7L889.8,516.1L873.2,516.1ZM902.0,501.7L910.3,516.1L893.7,516.1ZM922.6,494.2L930.9,508.6L914.3,508.6ZM943.2,494.2L951.5,508.6L934.9,508.6ZM963.8,487.6L972.1,502.0L955.5,502.0ZM984.4,487.6L992.7,502.0L976.1,502.0ZM1005.0,494.2L1013.3,508.6L996.7,508.6ZM1025.5,494.2L1033.8,508.6L1017.2,508.6ZM1046.1,494.2L1054.4,508.6L1037.8,508.6ZM1066.7,494.2L1075.0,508.6L1058.4,508.6ZM1087.3,500.9L1095.6,515.2L1079.0,515.2ZM1107.9,500.9L1116.2,515.2L1099.6,515.2ZM1128.4,508.3L1136.7,522.7L1120.1,522.7ZM1149.0,515.0L1157.3,529.4L1140.7,529.4ZM1169.6,522.1L1177.9,536.4L1161.3,536.4ZM1190.2,528.3L1198.5,542.7L1181.9,542.7ZM1210.8,535.8L1219.1,550.1L1202.5,550.1ZM1231.4,542.4L1239.7,556.8L1223.1,556.8ZM1251.9,549.5L1260.2,563.8L1243.6,563.8ZM1272.5,563.2L1280.8,577.5L1264.2,577.5ZM1293.1,569.8L1301.4,584.2L1284.8,584.2ZM1313.7,583.5L1322.0,597.9L1305.4,597.9ZM1334.3,590.6L1342.6,604.9L1326.0,604.9ZM1354.8,604.3L1363.1,618.6L1346.5,618.6ZM1375.4,617.1L1383.7,631.5L1367.1,631.5ZM1396.0,630.8L1404.3,645.2L1387.7,645.2ZM1416.6,643.7L1424.9,658.1L1408.3,658.1ZM1437.2,657.8L1445.5,672.2L1428.9,672.2ZM1457.8,671.5L1466.1,685.9L1449.5,685.9ZM1478.3,684.8L1486.6,699.2L1470.0,699.2ZM1498.9,698.5L1507.2,712.9L1490.6,712.9ZM1519.5,712.2L1527.8,726.6L1511.2,726.6ZM1540.1,725.9L1548.4,740.3L1531.8,740.3ZM1560.7,739.6L1569.0,754.0L1552.4,754.0ZM1581.2,753.3L1589.5,767.7L1572.9,767.7ZM1601.8,760.4L1610.1,774.8L1593.5,774.8ZM1622.4,774.1L1630.7,788.5L1614.1,788.5ZM1643.0,787.4L1651.3,801.8L1634.7,801.8ZM1663.6,800.7L1671.9,815.1L1655.3,815.1ZM1684.2,821.0L1692.5,835.4L1675.9,835.4ZM1704.7,834.3L1713.0,848.7L1696.4,848.7ZM1725.3,848.0L1733.6,862.4L1717.0,862.4ZM1745.9,868.4L1754.2,882.7L1737.6,882.7ZM1766.5,882.1L1774.8,896.4L1758.2,896.4ZM1787.1,902.4L1795.4,916.8L1778.8,916.8ZM1807.6,916.5L1815.9,930.9L1799.3,930.9ZM1828.2,936.1L1836.5,950.4L1819.9,950.4ZM1848.8,950.2L1857.1,964.5L1840.5,964.5ZM1869.4,963.9L1877.7,978.3L1861.1,978.3ZM1890.0,977.6L1898.3,992.0L1881.7,992.0ZM1910.6,991.3L1918.9,1005.7L1902.3,1005.7ZM1931.1,1011.2L1939.4,1025.6L1922.8,1025.6ZM1951.7,1024.9L1960.0,1039.3L1943.4,1039.3ZM1972.3,1038.2L1980.6,1052.6L1964.0,1052.6ZM1992.9,1051.9L2001.2,1066.3L1984.6,1066.3ZM2013.5,1065.2L2021.8,1079.6L2005.2,1079.6ZM2034.1,1078.5L2042.4,1092.9L2025.8,1092.9ZM2054.6,1092.2L2062.9,1106.6L2046.3,1106.6ZM2075.2,1105.9L2083.5,1120.3L2066.9,1120.3ZM2095.8,1125.4L2104.1,1139.8L2087.5,1139.8ZM2116.4,1139.5L2124.7,1153.9L2108.1,1153.9ZM2137.0,1146.2L2145.3,1160.5L2128.7,1160.5ZM2157.5,1159.9L2165.8,1174.3L2149.2,1174.3ZM2178.1,1173.2L2186.4,1187.5L2169.8,1187.5ZM2198.7,1179.8L2207.0,1194.2L2190.4,1194.2ZM2219.3,1193.5L2227.6,1207.9L2211.0,1207.9ZM2239.9,1200.2L2248.2,1214.5L2231.6,1214.5ZM2260.5,1213.9L2268.8,1228.2L2252.2,1228.2ZM2281.0,1220.9L2289.3,1235.3L2272.7,1235.3ZM2301.6,1227.6L2309.9,1241.9L2293.3,1241.9ZM2322.2,1235.4L2330.5,1249.8L2313.9,1249.8Z" fill="#fff" stroke="#8796FD" stroke-width="3.7" stroke-linejoin="miter"/>

</g>
<path d="M264.0,1624.5h16.2M264.0,1520.7h32.0M264.0,1416.9h16.2M264.0,1313.0h32.0M264.0,1209.2h16.2M264.0,1105.4h32.0M264.0,1001.6h16.2M264.0,897.8h32.0M264.0,794.0h16.2M264.0,690.2h32.0M264.0,586.4h16.2M264.0,482.5h32.0M264.0,378.7h16.2M264.0,274.9h32.0M264.0,171.1h16.2M469.8,1728.3v-16.2M675.6,1728.3v-32.0M881.5,1728.3v-16.2M1087.3,1728.3v-32.0M1293.1,1728.3v-16.2M1498.9,1728.3v-32.0M1704.7,1728.3v-16.2M1910.6,1728.3v-32.0M2116.4,1728.3v-16.2" stroke="#000" stroke-width="6.5" fill="none"/>
<rect x="264.0" y="67.3" width="2058.2" height="1661.0" fill="none" stroke="#000" stroke-width="6.5"/>
<g font-family="'Liberation Serif', 'Times New Roman', serif" font-size="72" fill="#000">
<text x="230" y="1748.8" text-anchor="end">0.0</text>
<text x="230" y="1541.2" text-anchor="end">0.5</text>
<text x="230" y="1333.5" text-anchor="end">1.0</text>
<text x="230" y="1125.9" text-anchor="end">1.5</text>
<text x="230" y="918.3" text-anchor="end">2.0</text>
<text x="230" y="710.7" text-anchor="end">2.5</text>
<text x="230" y="503.0" text-anchor="end">3.0</text>
<text x="230" y="295.4" text-anchor="end">3.5</text>
<text x="230" y="87.8" text-anchor="end">4.0</text>
<text x="264.0" y="1816.5" text-anchor="middle">0</text>
<text x="675.6" y="1816.5" text-anchor="middle">2</text>
<text x="1087.3" y="1816.5" text-anchor="middle">4</text>
<text x="1498.9" y="1816.5" text-anchor="middle">6</text>
<text x="1910.6" y="1816.5" text-anchor="middle">8</text>
<text x="2322.2" y="1816.5" text-anchor="middle">10</text>
</g>
<text font-family="'Liberation Serif', 'Times New Roman', serif" font-size="88" x="1178.6" y="1876.4" fill="#000"><tspan font-style="italic">t</tspan> (ms)</text>
<text font-family="'Liberation Serif', 'Times New Roman', serif" font-size="88" font-style="italic" fill="#000" text-anchor="middle" transform="translate(87.6,898.5) rotate(-90)">D /D<tspan font-size="60" dy="23.4">0</tspan></text>
<path d="M1585.5,167.2H1778.2" stroke="#000000" stroke-width="6.0" stroke-linecap="round" fill="none"/>
<path d="M1681.7,157.6L1684.1,164.0L1690.8,164.2L1685.5,168.4L1687.3,175.0L1681.7,171.2L1676.1,175.0L1677.9,168.4L1672.6,164.2L1679.3,164.0Z" fill="#000000" stroke="#000000" stroke-width="2.4" stroke-linejoin="round"/><path d="M1679.3,165.6h4.8v3.9h-4.8Z" fill="#e0e0e0"/>
<text font-family="'Liberation Serif', 'Times New Roman', serif" font-size="84" x="1799.5" y="197.2" letter-spacing="0.1" fill="#000">5µm×5µm</text>
<path d="M1585.5,273.6H1778.2" stroke="#CC0000" stroke-width="6.0" stroke-linecap="round" fill="none"/>
<path d="M1681.7,265.9L1689.5,271.5L1686.5,280.6L1676.9,280.6L1673.9,271.5Z" fill="#fff" stroke="#CC0000" stroke-width="4.1" stroke-linejoin="miter"/>
<text font-family="'Liberation Serif', 'Times New Roman', serif" font-size="84" x="1802.5" y="303.3" letter-spacing="0.3" fill="#000">10µm×10µm</text>
<path d="M1585.5,379.8H1778.2" stroke="#8796FD" stroke-width="6.0" stroke-linecap="round" fill="none"/>
<path d="M1681.7,370.7L1690.0,385.1L1673.4,385.1Z" fill="#fff" stroke="#8796FD" stroke-width="3.7" stroke-linejoin="miter"/>
<text font-family="'Liberation Serif', 'Times New Roman', serif" font-size="84" x="1798" y="408.7" letter-spacing="0.8" fill="#000">20µm×20µm</text>
</svg>
</body></html>
